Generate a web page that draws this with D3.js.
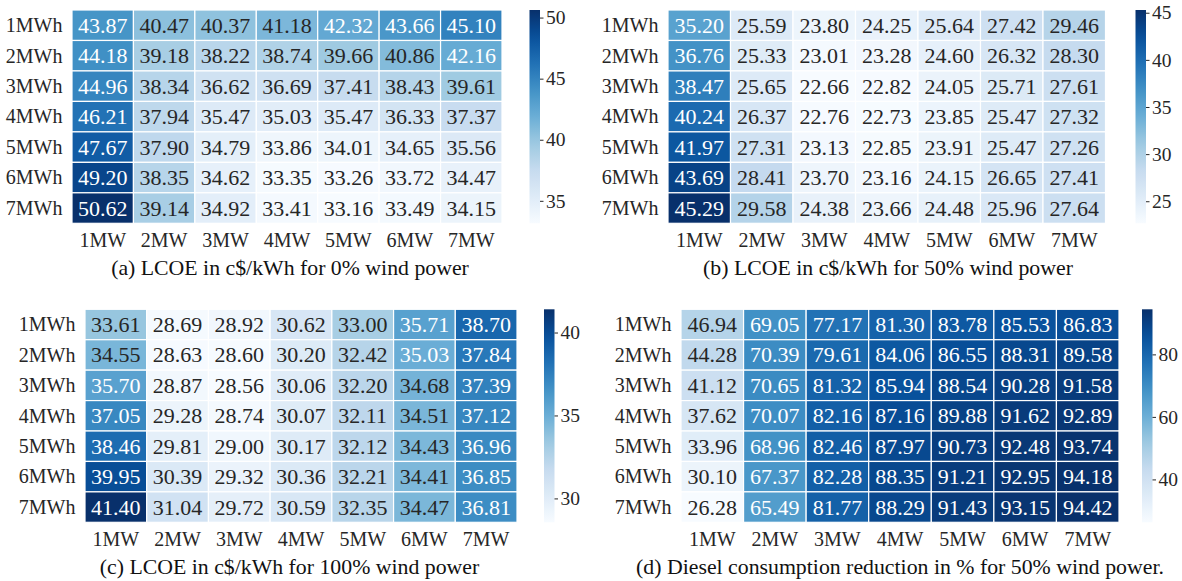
<!DOCTYPE html>
<html>
<head>
<meta charset="utf-8">
<script src="https://cdn.jsdelivr.net/npm/d3@7"></script>
<style>
  html, body { margin: 0; padding: 0; background: #fff; }
  svg { display: block; font-family: "Liberation Serif", "DejaVu Serif", serif; }
</style>
</head>
<body>
<svg id="chart" width="1182" height="581"></svg>
<script>
// Axis categories
const storageLabels = ["1MWh", "2MWh", "3MWh", "4MWh", "5MWh", "6MWh", "7MWh"];
const powerLabels = ["1MW", "2MW", "3MW", "4MW", "5MW", "6MW", "7MW"];

// LCOE (c$/kWh), 0% wind power — rows: storage energy, columns: storage power
const lcoeWind0 = [
  [43.87, 40.47, 40.37, 41.18, 42.32, 43.66, 45.10],
  [44.18, 39.18, 38.22, 38.74, 39.66, 40.86, 42.16],
  [44.96, 38.34, 36.62, 36.69, 37.41, 38.43, 39.61],
  [46.21, 37.94, 35.47, 35.03, 35.47, 36.33, 37.37],
  [47.67, 37.90, 34.79, 33.86, 34.01, 34.65, 35.56],
  [49.20, 38.35, 34.62, 33.35, 33.26, 33.72, 34.47],
  [50.62, 39.14, 34.92, 33.41, 33.16, 33.49, 34.15]
];

// LCOE (c$/kWh), 50% wind power
const lcoeWind50 = [
  [35.20, 25.59, 23.80, 24.25, 25.64, 27.42, 29.46],
  [36.76, 25.33, 23.01, 23.28, 24.60, 26.32, 28.30],
  [38.47, 25.65, 22.66, 22.82, 24.05, 25.71, 27.61],
  [40.24, 26.37, 22.76, 22.73, 23.85, 25.47, 27.32],
  [41.97, 27.31, 23.13, 22.85, 23.91, 25.47, 27.26],
  [43.69, 28.41, 23.70, 23.16, 24.15, 26.65, 27.41],
  [45.29, 29.58, 24.38, 23.66, 24.48, 25.96, 27.64]
];

// LCOE (c$/kWh), 100% wind power
const lcoeWind100 = [
  [33.61, 28.69, 28.92, 30.62, 33.00, 35.71, 38.70],
  [34.55, 28.63, 28.60, 30.20, 32.42, 35.03, 37.84],
  [35.70, 28.87, 28.56, 30.06, 32.20, 34.68, 37.39],
  [37.05, 29.28, 28.74, 30.07, 32.11, 34.51, 37.12],
  [38.46, 29.81, 29.00, 30.17, 32.12, 34.43, 36.96],
  [39.95, 30.39, 29.32, 30.36, 32.21, 34.41, 36.85],
  [41.40, 31.04, 29.72, 30.59, 32.35, 34.47, 36.81]
];

// Diesel consumption reduction (%), 50% wind power
const dieselReduction50 = [
  [46.94, 69.05, 77.17, 81.30, 83.78, 85.53, 86.83],
  [44.28, 70.39, 79.61, 84.06, 86.55, 88.31, 89.58],
  [41.12, 70.65, 81.32, 85.94, 88.54, 90.28, 91.58],
  [37.62, 70.07, 82.16, 87.16, 89.88, 91.62, 92.89],
  [33.96, 68.96, 82.46, 87.97, 90.73, 92.48, 93.74],
  [30.10, 67.37, 82.28, 88.35, 91.21, 92.95, 94.18],
  [26.28, 65.49, 81.77, 88.29, 91.43, 93.15, 94.42]
];

// Colorbar tick values
const ticksA = [35, 40, 45, 50];
const ticksB = [25, 30, 35, 40, 45];
const ticksC = [30, 35, 40];
const ticksD = [40, 60, 80];

// Captions
const captions = [
  "(a) LCOE in c$/kWh for 0% wind power",
  "(b) LCOE in c$/kWh for 50% wind power",
  "(c) LCOE in c$/kWh for 100% wind power",
  "(d) Diesel consumption reduction in % for 50% wind power."
];

// Panel placement (pixels)
const layout = [
  { x0: 72,  x1: 502,    y0: 10,    y1: 223.3, cb: 529.5,  cap: 290 },
  { x0: 668, x1: 1105.5, y0: 10,    y1: 223.3, cb: 1135.5, cap: 888 },
  { x0: 85,  x1: 517,    y0: 309.3, y1: 522.3, cb: 544,    cap: 289.5 },
  { x0: 681, x1: 1119,   y0: 309.3, y1: 522.3, cb: 1142,   cap: 900 }
];

const panels = [
  { values: lcoeWind0, ticks: ticksA, caption: captions[0] },
  { values: lcoeWind50, ticks: ticksB, caption: captions[1] },
  { values: lcoeWind100, ticks: ticksC, caption: captions[2] },
  { values: dieselReduction50, ticks: ticksD, caption: captions[3] }
];

// Sequential "Blues" colormap, linear between the nine anchor colours
const bluesAnchors = ["#f7fbff", "#deebf7", "#c6dbef", "#9ecae1", "#6baed6",
                      "#4292c6", "#2171b5", "#08519c", "#08306b"];
const blues = d3.scaleLinear()
  .domain(d3.range(bluesAnchors.length).map(i => i / (bluesAnchors.length - 1)))
  .range(bluesAnchors)
  .interpolate(d3.interpolateRgb)
  .clamp(true);

function luminance(c) {
  const rgb = d3.rgb(c);
  const lin = v => { v /= 255; return v <= 0.03928 ? v / 12.92 : Math.pow((v + 0.055) / 1.055, 2.4); };
  return 0.2126 * lin(rgb.r) + 0.7152 * lin(rgb.g) + 0.0722 * lin(rgb.b);
}

const svg = d3.select("#chart");
const defs = svg.append("defs");
const textDark = "#262626";
const labelSize = 20;

panels.forEach((p, k) => {
  const L = layout[k];
  const flat = p.values.flat();
  const vmin = d3.min(flat), vmax = d3.max(flat);
  const norm = d3.scaleLinear().domain([vmin, vmax]).range([0, 1]);
  const colorOf = v => blues(norm(v));

  const x = d3.scaleBand().domain(powerLabels).range([L.x0, L.x1]);
  const y = d3.scaleBand().domain(storageLabels).range([L.y0, L.y1]);

  const g = svg.append("g");

  const cells = [];
  p.values.forEach((row, i) => row.forEach((v, j) => cells.push({ r: storageLabels[i], c: powerLabels[j], v })));

  g.selectAll("rect.cell").data(cells).join("rect")
    .attr("class", "cell")
    .attr("x", d => x(d.c))
    .attr("y", d => y(d.r))
    .attr("width", x.bandwidth())
    .attr("height", y.bandwidth())
    .attr("fill", d => colorOf(d.v))
    .attr("stroke", "#ffffff")
    .attr("stroke-width", 1.2);

  g.selectAll("text.val").data(cells).join("text")
    .attr("class", "val")
    .attr("x", d => x(d.c) + x.bandwidth() / 2)
    .attr("y", d => y(d.r) + y.bandwidth() / 2)
    .attr("dy", "0.34em")
    .attr("text-anchor", "middle")
    .attr("font-size", 22)
    .attr("fill", d => luminance(colorOf(d.v)) > 0.408 ? textDark : "#ffffff")
    .text(d => d.v.toFixed(2));

  // Row labels
  g.selectAll("text.ylab").data(storageLabels).join("text")
    .attr("class", "ylab")
    .attr("x", L.x0 - 9.5)
    .attr("y", d => y(d) + y.bandwidth() / 2)
    .attr("dy", "0.34em")
    .attr("text-anchor", "end")
    .attr("font-size", labelSize)
    .attr("fill", textDark)
    .text(d => d);

  // Column labels
  g.selectAll("text.xlab").data(powerLabels).join("text")
    .attr("class", "xlab")
    .attr("x", d => x(d) + x.bandwidth() / 2)
    .attr("y", L.y1 + 23.5)
    .attr("text-anchor", "middle")
    .attr("font-size", labelSize)
    .attr("fill", textDark)
    .text(d => d);

  // Colorbar
  const cbW = 10.5;
  const gradId = "cbgrad" + k;
  const grad = defs.append("linearGradient")
    .attr("id", gradId)
    .attr("x1", 0).attr("y1", 1).attr("x2", 0).attr("y2", 0);
  d3.range(0, 1.0001, 0.05).forEach(t => {
    grad.append("stop").attr("offset", t).attr("stop-color", blues(t));
  });
  g.append("rect")
    .attr("x", L.cb)
    .attr("y", L.y0)
    .attr("width", cbW)
    .attr("height", L.y1 - L.y0)
    .attr("fill", `url(#${gradId})`);

  const cbScale = d3.scaleLinear().domain([vmin, vmax]).range([L.y1, L.y0]);
  const axis = d3.axisRight(cbScale).tickValues(p.ticks).tickSize(3.5).tickPadding(2.5).tickFormat(d3.format("d"));
  const ag = g.append("g")
    .attr("transform", `translate(${L.cb + cbW},0)`)
    .call(axis);
  ag.select(".domain").remove();
  ag.selectAll(".tick line").attr("stroke", textDark).attr("stroke-width", 1);
  ag.selectAll(".tick text")
    .attr("font-size", 19.5)
    .attr("font-family", "Liberation Serif, DejaVu Serif, serif")
    .attr("fill", textDark);

  // Caption
  g.append("text")
    .attr("x", L.cap)
    .attr("y", L.y1 + 52)
    .attr("text-anchor", "middle")
    .attr("font-size", 21.8)
    .attr("fill", "#111111")
    .text(p.caption);
});
</script>
</body>
</html>
